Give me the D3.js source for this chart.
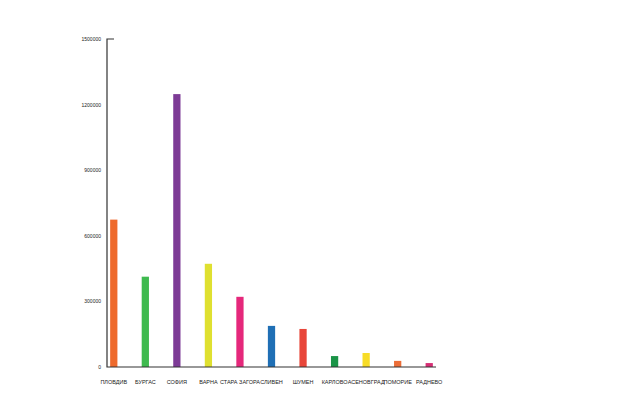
<!DOCTYPE html>
<html><head><meta charset="utf-8">
<script src="https://cdn.jsdelivr.net/npm/d3@7"></script>
<style>body{margin:0;background:#fff}</style>
</head><body>
<svg id="c" width="620" height="416"></svg>
<script>
const cities = ["ПЛОВДИВ", "БУРГАС", "СОФИЯ", "ВАРНА", "СТАРА ЗАГОРА", "СЛИВЕН", "ШУМЕН", "КАРЛОВО", "АСЕНОВГРАД", "ПОМОРИЕ", "РАДНЕВО"];
const values = [674000, 413000, 1248000, 472000, 321000, 188000, 174000, 50000, 64000, 28000, 18000];
const colors = ["#ee6a2c", "#3fba4f", "#7d3b96", "#dfe030", "#e5287b", "#1f6fb5", "#e8463a", "#1a9447", "#f7dc27", "#ec6d37", "#d62e74"];
const ticks = [0, 300000, 600000, 900000, 1200000, 1500000];

const svg = d3.select("#c");
const mLeft = 107, mRight = 436, mTop = 39, mBottom = 367;
const x = d3.scaleBand().domain(cities).range([mLeft, mRight]).paddingInner(0.77).paddingOuter(0.1);
const y = d3.scaleLinear().domain([0, 1500000]).range([mBottom, mTop]);

svg.selectAll("rect").data(values).join("rect")
  .attr("x", (d, i) => x(cities[i]))
  .attr("width", x.bandwidth())
  .attr("y", d => y(d))
  .attr("height", d => mBottom - y(d))
  .attr("fill", (d, i) => colors[i]);

svg.append("path").attr("d", `M${mLeft + 7},${mTop}H${mLeft}V${mBottom}H${mRight}`)
  .attr("fill", "none").attr("stroke", "#333").attr("stroke-width", 1.2);

svg.selectAll(".yt").data(ticks).join("text")
  .attr("x", mLeft - 6).attr("y", d => y(d) + 2)
  .attr("text-anchor", "end").attr("font-family", "Liberation Sans, Arial")
  .attr("font-size", 5).attr("fill", "#222").text(d => d);

svg.selectAll(".xt").data(cities).join("text")
  .attr("x", d => x(d) + x.bandwidth() / 2).attr("y", 384)
  .attr("text-anchor", "middle").attr("font-family", "Liberation Sans, Arial")
  .attr("font-size", 5.5).attr("fill", "#222").text(d => d);
</script>
</body></html>
